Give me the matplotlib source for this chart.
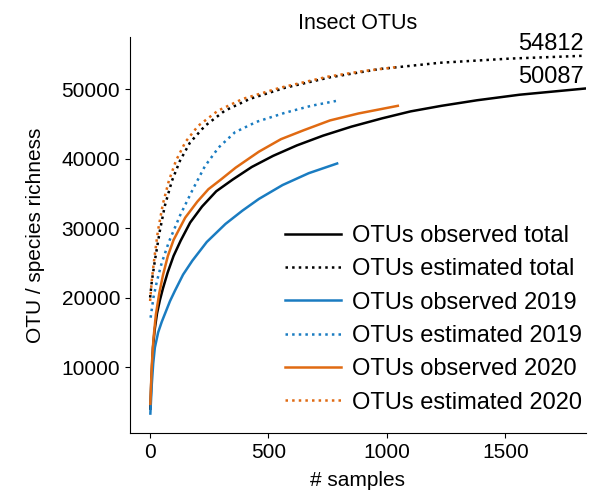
import matplotlib
matplotlib.use('Agg')
import matplotlib.pyplot as plt

# **** data (samples, richness) ****
obs_total_x = [2, 6, 13, 20, 30, 42, 55, 75, 100, 130, 170, 220, 280, 350, 430, 520, 620,
               730, 850, 980, 1100, 1230, 1380, 1560, 1835]
obs_total_y = [4000, 8000, 12800, 15300, 17700, 19600, 21300, 23600, 26000, 28200, 30800, 33100,
               35300, 37000, 38800, 40400, 41900, 43300, 44600, 45800, 46800, 47600, 48400, 49200, 50087]

est_total_x = [1, 8, 21, 42, 63, 93, 127, 169, 232, 316, 422, 570, 759, 970, 1224, 1519, 1835]
est_total_y = [20000, 22300, 25300, 29600, 33200, 36800, 39700, 42300, 44700, 46900, 48600, 50200,
               51700, 52900, 53800, 54400, 54812]

obs_2019_x = [2, 8, 14, 21, 35, 50, 64, 85, 106, 140, 179, 240, 319, 390, 460, 560, 670, 790]
obs_2019_y = [3300, 7500, 10500, 12800, 15000, 16500, 17700, 19500, 21000, 23300, 25300, 28000,
              30600, 32500, 34200, 36200, 37900, 39300]

est_2019_x = [3, 15, 30, 50, 80, 127, 180, 232, 290, 359, 450, 570, 680, 785]
est_2019_y = [17100, 20000, 22400, 25000, 28000, 31800, 35500, 38900, 41600, 43800, 45300, 46600,
              47600, 48300]

obs_2020_x = [2, 8, 15, 25, 40, 55, 76, 100, 149, 200, 247, 300, 362, 460, 553, 650, 760, 880, 1046]
obs_2020_y = [4700, 10200, 14000, 17500, 20700, 23200, 26000, 28300, 31500, 33800, 35600, 37000,
              38700, 41000, 42800, 44100, 45500, 46500, 47600]

est_2020_x = [1, 8, 20, 34, 55, 80, 110, 150, 203, 287, 392, 549, 751, 900, 1046]
est_2020_y = [19500, 22500, 26000, 29600, 33500, 36800, 39700, 42400, 44700, 46900, 48600, 50200,
              51800, 52600, 53200]

blue = '#1a7cc1'
orange = '#e06a12'

plt.rcParams['font.family'] = ['Liberation Sans', 'DejaVu Sans']

# **** figure ****
fig = plt.figure(figsize=(5.9, 4.96), dpi=100)
ax = fig.add_axes([0.2203, 0.127, 0.7729, 0.798])

ax.plot(obs_total_x, obs_total_y, color='black', lw=1.8, label='OTUs observed total')
ax.plot(est_total_x, est_total_y, color='black', lw=1.8, ls=':', label='OTUs estimated total')
ax.plot(obs_2019_x, obs_2019_y, color=blue, lw=1.8, label='OTUs observed 2019')
ax.plot(est_2019_x, est_2019_y, color=blue, lw=1.8, ls=':', label='OTUs estimated 2019')
ax.plot(obs_2020_x, obs_2020_y, color=orange, lw=1.8, label='OTUs observed 2020')
ax.plot(est_2020_x, est_2020_y, color=orange, lw=1.8, ls=':', label='OTUs estimated 2020')

# **** end labels ****
for xs, ys in [(est_total_x, est_total_y), (obs_total_x, obs_total_y)]:
    ax.annotate(f'{ys[-1]}', xy=(xs[-1], ys[-1]), xytext=(-1, 4), textcoords='offset points',
                ha='right', va='baseline', fontsize=17)

ax.set_xlim(-84, 1840)
ax.set_ylim(500, 57480)
ax.set_xticks([0, 500, 1000, 1500])
ax.set_yticks([10000, 20000, 30000, 40000, 50000])
ax.tick_params(labelsize=15)
ax.spines['top'].set_visible(False)
ax.spines['right'].set_visible(False)

ax.set_title('Insect OTUs', fontsize=15.5)
ax.set_xlabel('# samples', fontsize=15, labelpad=7)
ax.set_ylabel('OTU / species richness', fontsize=15, labelpad=12)

ax.legend(loc='lower right', bbox_to_anchor=(1.013, 0.025), borderaxespad=0, frameon=False,
          fontsize=17, handlelength=2.37, handletextpad=0.5, labelspacing=0.48)

fig.savefig('out.png', dpi=100)
